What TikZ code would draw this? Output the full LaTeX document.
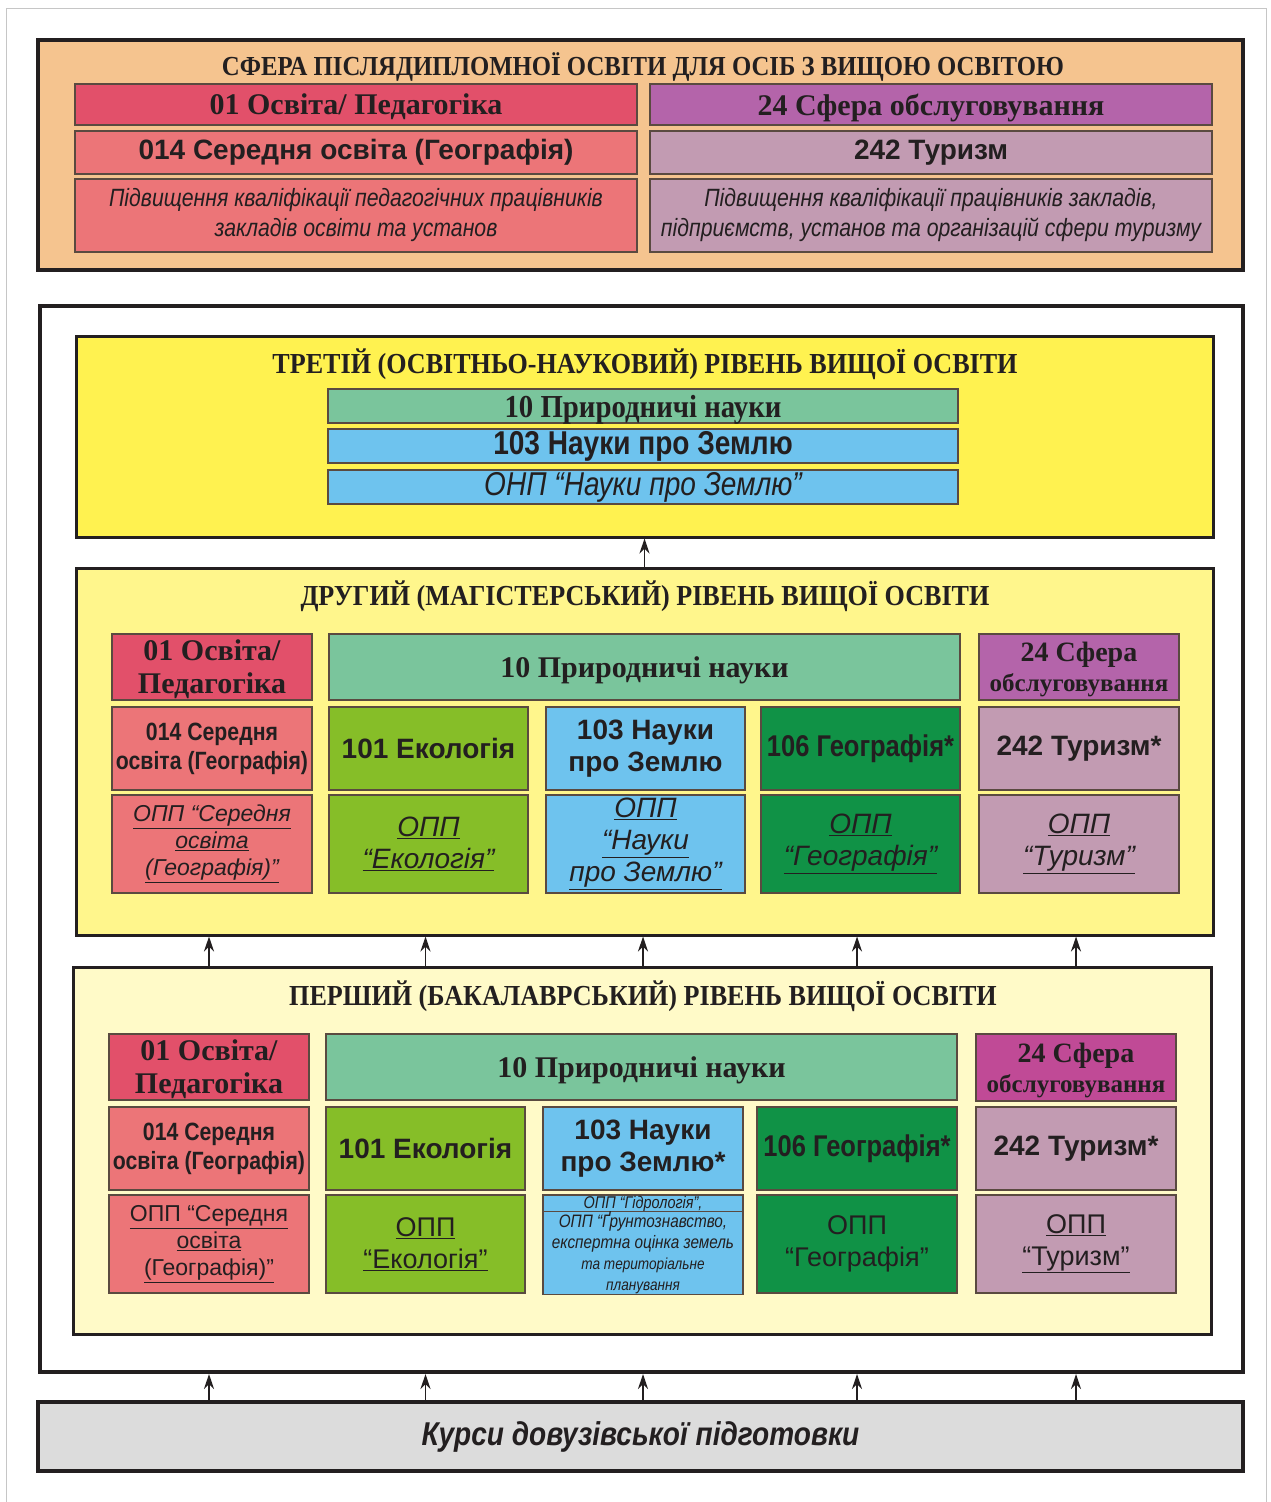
\documentclass[tikz,border=0pt]{standalone}
\usepackage{fontspec}
\setmainfont{Liberation Serif}
\setsansfont{Liberation Sans}
\newfontfamily\hd[FakeStretch=0.9]{Liberation Serif}
\newfontfamily\sr{Liberation Serif}
\newfontfamily\sn{Liberation Sans}
\newfontfamily\snn[FakeStretch=0.85]{Liberation Sans}
\usetikzlibrary{arrows.meta}

\definecolor{peach}{HTML}{F5C48F}
\definecolor{crim}{HTML}{E2506A}
\definecolor{salm}{HTML}{EC7578}
\definecolor{purp}{HTML}{B464AA}
\definecolor{mauve}{HTML}{C29BB2}
\definecolor{yel3}{HTML}{FFF250}
\definecolor{yel2}{HTML}{FFF68C}
\definecolor{yel1}{HTML}{FFFAC8}
\definecolor{teal}{HTML}{7AC59C}
\definecolor{sky}{HTML}{6EC3EE}
\definecolor{lime}{HTML}{86BE28}
\definecolor{dgreen}{HTML}{109246}
\definecolor{magen}{HTML}{C04A96}
\definecolor{lgray}{HTML}{DCDCDC}
\definecolor{txt}{HTML}{231F20}
\definecolor{boxline}{HTML}{5A4A40}

\newcommand\ttlf{\fontsize{29}{33}\selectfont\hd\bfseries}
\newcommand\toptl{\fontsize{27.5}{32}\selectfont\hd\bfseries}
\newcommand\lbl{\fontsize{30}{33}\selectfont\sr\bfseries}
\newcommand\sbl{\fontsize{28}{32}\selectfont\sn\bfseries}
\newcommand\snb{\fontsize{25}{29}\selectfont\snn\bfseries}
\newcommand\itl{\fontsize{25}{30}\selectfont\snn\itshape}
\newcommand\opp{\fontsize{28}{32}\selectfont\sn\itshape}
\newcommand\oppr{\fontsize{27}{32}\selectfont\sn}
\newcommand\oppc{\fontsize{23}{27}\selectfont\sn\itshape}
\newcommand\oppcr{\fontsize{23}{27}\selectfont\sn}
\newcommand\obsl{\fontsize{25}{27}\selectfont\sr\bfseries}
\newcommand\ul[1]{\underline{#1}}

\tikzset{
  box/.style={draw=boxline, line width=1.2pt, inner sep=0pt, outer sep=0pt, align=center, text=txt},
  lab/.style={text depth=0pt},
  level/.style={draw=txt, line width=3pt, inner sep=0pt, outer sep=0pt},
  frm/.style={draw=txt, line width=4pt, inner sep=0pt, outer sep=0pt},
  arr/.style={-{Stealth[length=15pt,width=10pt]}, line width=1.4pt, draw=txt},
}
\newcommand\bx[7]{\node[box,#6,minimum width={(#4-#2)*1pt},minimum height={(#5-#3)*1pt}] (#1) at ({(#2+#4)/2},{(#3+#5)/2}) {#7};}
\newcommand\lv[7]{\node[#6,minimum width={(#4-#2)*1pt},minimum height={(#5-#3)*1pt}] (#1) at ({(#2+#4)/2},{(#3+#5)/2}) {#7};}

\begin{document}
\begin{tikzpicture}[x=1pt,y=-1pt]
\useasboundingbox (0,0) rectangle (1271,1502);
\fill[white] (0,0) rectangle (1271,1502);
\draw[gray!45, line width=1pt] (6,1502) -- (6,8) -- (1266,8) -- (1266,1502);

% ---- postgraduate sphere ----
\lv{post}{38}{40}{1243}{270}{frm, fill=peach}{}
\node[text=txt, font=\toptl, inner sep=0pt] (posttl) at (643,67) {СФЕРА ПІСЛЯДИПЛОМНОЇ ОСВІТИ ДЛЯ ОСІБ З ВИЩОЮ ОСВІТОЮ};
\bx{a1}{75}{84}{637}{125}{lab, fill=crim, font=\lbl}{01 Освіта/ Педагогіка}
\bx{a2}{75}{131}{637}{174}{fill=salm, font=\sbl}{014 Середня освіта (Географія)}
\bx{a3}{75}{179}{637}{252}{fill=salm, font=\itl}{Підвищення кваліфікації педагогічних працівників\\закладів освіти та установ}
\bx{b1}{650}{84}{1212}{125}{lab, fill=purp, font=\lbl}{24 Сфера обслуговування}
\bx{b2}{650}{131}{1212}{174}{fill=mauve, font=\sbl}{242 Туризм}
\bx{b3}{650}{179}{1212}{252}{fill=mauve, font=\itl}{Підвищення кваліфікації працівників закладів,\\підприємств, установ та організацій сфери туризму}

% ---- higher education frame ----
\lv{he}{40}{306}{1243}{1372}{frm, fill=white}{}

% third level
\lv{l3}{76}{336}{1213}{537}{level, fill=yel3}{}
\node[text=txt, font=\ttlf, inner sep=0pt] (l3tl) at (645,364) {ТРЕТІЙ (ОСВІТНЬО-НАУКОВИЙ) РІВЕНЬ ВИЩОЇ ОСВІТИ};
\bx{t1}{328}{389}{958}{423}{lab, fill=teal, font={\fontsize{32}{34}\selectfont\hd\bfseries}}{10 Природничі науки}
\bx{t2}{328}{429}{958}{463}{fill=sky, font={\fontsize{33}{34}\selectfont\snn\bfseries}}{103 Науки про Землю}
\bx{t3}{328}{470}{958}{504}{fill=sky, font={\fontsize{33}{34}\selectfont\snn\itshape}}{ОНП “Науки про Землю”}

% second level
\lv{l2}{76}{568}{1213}{935}{level, fill=yel2}{}
\node[text=txt, font=\ttlf, inner sep=0pt] (l2tl) at (645,596) {ДРУГИЙ (МАГІСТЕРСЬКИЙ) РІВЕНЬ ВИЩОЇ ОСВІТИ};
\bx{m1h}{112}{634}{312}{700}{lab, fill=crim, font=\lbl}{01 Освіта/\\Педагогіка}
\bx{m1a}{112}{707}{312}{790}{fill=salm, font=\snb}{014 Середня\\освіта (Географія)}
\bx{m1b}{112}{795}{312}{893}{fill=salm, font=\oppc}{\ul{ОПП “Середня}\\\ul{освіта}\\\ul{(Географія)”}}
\bx{mgh}{329}{634}{960}{700}{lab, fill=teal, font=\lbl}{10 Природничі науки}
\bx{m2a}{329}{707}{528}{790}{fill=lime, font=\sbl}{101 Екологія}
\bx{m2b}{329}{795}{528}{893}{fill=lime, font=\opp}{\ul{ОПП}\\\ul{“Екологія”}}
\bx{m3a}{546}{707}{745}{790}{fill=sky, font=\sbl}{103 Науки\\про Землю}
\bx{m3b}{546}{795}{745}{893}{fill=sky, font=\opp}{\ul{ОПП}\\\ul{“Науки}\\\ul{про Землю”}}
\bx{m4a}{761}{707}{960}{790}{fill=dgreen, font={\fontsize{30}{32}\selectfont\snn\bfseries}}{106 Географія*}
\bx{m4b}{761}{795}{960}{893}{fill=dgreen, font=\opp}{\ul{ОПП}\\\ul{“Географія”}}
\bx{m5h}{979}{634}{1179}{700}{lab, fill=purp, font={\fontsize{28}{30}\selectfont\sr\bfseries}}{24 Сфера\\{\obsl обслуговування}}
\bx{m5a}{979}{707}{1179}{790}{fill=mauve, font=\sbl}{242 Туризм*}
\bx{m5b}{979}{795}{1179}{893}{fill=mauve, font=\opp}{\ul{ОПП}\\\ul{“Туризм”}}

% first level
\lv{l1}{73}{967}{1211}{1334}{level, fill=yel1}{}
\node[text=txt, font=\ttlf, inner sep=0pt] (l1tl) at (643,996) {ПЕРШИЙ (БАКАЛАВРСЬКИЙ) РІВЕНЬ ВИЩОЇ ОСВІТИ};
\bx{p1h}{109}{1034}{309}{1100}{lab, fill=crim, font=\lbl}{01 Освіта/\\Педагогіка}
\bx{p1a}{109}{1107}{309}{1190}{fill=salm, font=\snb}{014 Середня\\освіта (Географія)}
\bx{p1b}{109}{1195}{309}{1293}{fill=salm, font=\oppcr}{\ul{ОПП “Середня}\\\ul{освіта}\\\ul{(Географія)”}}
\bx{pgh}{326}{1034}{957}{1100}{lab, fill=teal, font=\lbl}{10 Природничі науки}
\bx{p2a}{326}{1107}{525}{1190}{fill=lime, font=\sbl}{101 Екологія}
\bx{p2b}{326}{1195}{525}{1293}{fill=lime, font=\oppr}{\ul{ОПП}\\\ul{“Екологія”}}
\bx{p3a}{543}{1107}{743}{1190}{fill=sky, font=\sbl}{103 Науки\\про Землю*}
\bx{p3s}{543}{1195}{743}{1213}{fill=sky, font={\fontsize{17}{18}\selectfont\snn\itshape}}{ОПП “Гідрологія”,}
\bx{p3b}{543}{1213}{743}{1293}{fill=sky, font={\fontsize{18}{21}\selectfont\snn\itshape}}{ОПП “Ґрунтознавство,\\експертна оцінка земель\\{\fontsize{16}{20}\selectfont та територіальне}\\{\fontsize{16}{19}\selectfont планування}}
\bx{p4a}{757}{1107}{957}{1190}{fill=dgreen, font={\fontsize{30}{32}\selectfont\snn\bfseries}}{106 Географія*}
\bx{p4b}{757}{1195}{957}{1293}{fill=dgreen, font=\oppr}{ОПП\\“Географія”}
\bx{p5h}{976}{1034}{1176}{1101}{lab, fill=magen, font={\fontsize{28}{30}\selectfont\sr\bfseries}}{24 Сфера\\{\obsl обслуговування}}
\bx{p5a}{976}{1107}{1176}{1190}{fill=mauve, font=\sbl}{242 Туризм*}
\bx{p5b}{976}{1195}{1176}{1293}{fill=mauve, font=\oppr}{\ul{ОПП}\\\ul{“Туризм”}}

% pre-university courses
\lv{kursy}{38}{1402}{1243}{1471}{frm, fill=lgray, font={\fontsize{33}{36}\selectfont\snn\bfseries\itshape}, text=txt}{Курси довузівської підготовки}

% arrows
\draw[arr, shorten >=1.5pt, shorten <=1.5pt] (l2.north) -- (l3.south);
\foreach \c in {p1a,p2a,p3a,p4a,p5a}{
  \draw[arr, shorten >=1.5pt, shorten <=1.5pt] (\c.center |- l1.north) -- (\c.center |- l2.south);
  \draw[arr, shorten >=2pt, shorten <=2pt] (\c.center |- kursy.north) -- (\c.center |- he.south);
}
\end{tikzpicture}
\end{document}
